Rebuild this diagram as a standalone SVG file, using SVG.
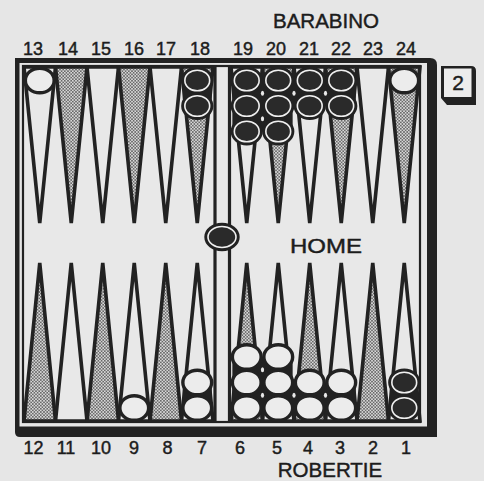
<svg xmlns="http://www.w3.org/2000/svg" xmlns:xlink="http://www.w3.org/1999/xlink" width="484" height="481" viewBox="0 0 484 481">
<defs>
<style>
.t{font-family:"Liberation Sans",Arial,Helvetica,sans-serif;fill:#1c1c1c;stroke:#1c1c1c;stroke-width:0.45;text-anchor:middle}
.n{font-size:18px}
.name{font-size:20.5px}
.pt{stroke:#222;stroke-width:3.6;stroke-linejoin:miter}
.w{fill:#e8e8e8}
.s{fill:url(#dots)}
.gap{fill:#222}
.spot{fill:#e8e8e8}
</style>
<pattern id="dots" width="3.2" height="3.2" patternUnits="userSpaceOnUse">
<rect width="3.2" height="3.2" fill="#d8d8d8"/>
<circle cx="0.8" cy="0.8" r="0.8" fill="#444"/>
<circle cx="2.4" cy="2.4" r="0.8" fill="#444"/>
</pattern>
<g id="wc"><ellipse rx="14.4" ry="12.3" fill="#ececec" stroke="#222" stroke-width="3.4"/></g>
<g id="bc"><ellipse rx="14.4" ry="12.3" fill="#2a2a2a" stroke="#222" stroke-width="3.4"/><ellipse rx="12.4" ry="10.3" fill="none" stroke="#f0f0f0" stroke-width="1.6"/></g>
</defs>
<rect width="484" height="481" fill="#e6e6e6"/>
<g id="frame">
<path d="M15,58 H430 Q437,58 437,65 V437 H20 Q15,437 15,432 Z" fill="#222"/>
<rect x="19.5" y="63" width="407.5" height="363.5" fill="#e6e6e6"/>
<rect x="23" y="66" width="397" height="356" fill="#e8e8e8" stroke="#222" stroke-width="2.2"/>
</g>
<g id="points" class="pt">
<polygon class="w" points="24,67 55.5,67 39.75,223"/>
<polygon class="s" points="55.5,67 87,67 71.25,223"/>
<polygon class="w" points="87,67 118.5,67 102.75,223"/>
<polygon class="s" points="118.5,67 150,67 134.25,223"/>
<polygon class="w" points="150,67 181.5,67 165.75,223"/>
<polygon class="s" points="181.5,67 213,67 197.25,223"/>
<polygon class="w" points="231,67 262.5,67 246.75,223"/>
<polygon class="s" points="262.5,67 294,67 278.25,223"/>
<polygon class="w" points="294,67 325.5,67 309.75,223"/>
<polygon class="s" points="325.5,67 357,67 341.25,223"/>
<polygon class="w" points="357,67 388.5,67 372.75,223"/>
<polygon class="s" points="388.5,67 420,67 404.25,223"/>
<polygon class="s" points="24,421 55.5,421 39.75,263"/>
<polygon class="w" points="55.5,421 87,421 71.25,263"/>
<polygon class="s" points="87,421 118.5,421 102.75,263"/>
<polygon class="w" points="118.5,421 150,421 134.25,263"/>
<polygon class="s" points="150,421 181.5,421 165.75,263"/>
<polygon class="w" points="181.5,421 213,421 197.25,263"/>
<polygon class="s" points="231,421 262.5,421 246.75,263"/>
<polygon class="w" points="262.5,421 294,421 278.25,263"/>
<polygon class="s" points="294,421 325.5,421 309.75,263"/>
<polygon class="w" points="325.5,421 357,421 341.25,263"/>
<polygon class="s" points="357,421 388.5,421 372.75,263"/>
<polygon class="w" points="388.5,421 420,421 404.25,263"/>
</g>
<g id="bar" stroke="#222" stroke-width="3.2">
<line x1="215" y1="66" x2="215" y2="422"/>
<line x1="229.5" y1="66" x2="229.5" y2="422"/>
</g>
<g id="stack-gaps">
<rect class="gap" x="182.85" y="80.5" width="28.8" height="25.5"/>
<rect class="gap" x="232.35" y="80.5" width="60.3" height="51"/>
<rect class="gap" x="279.85" y="80.5" width="75.8" height="25.5"/>
<ellipse class="spot" cx="262.5" cy="93.25" rx="1.6" ry="2.6"/>
<ellipse class="spot" cx="294" cy="93.25" rx="1.6" ry="2.6"/>
<ellipse class="spot" cx="325.5" cy="93.25" rx="1.6" ry="2.6"/>
<ellipse class="spot" cx="262.5" cy="118.75" rx="1.6" ry="2.6"/>
<rect class="gap" x="182.85" y="382.5" width="28.8" height="25.5"/>
<rect class="gap" x="232.35" y="357" width="60.3" height="51"/>
<rect class="gap" x="279.85" y="382.5" width="75.8" height="25.5"/>
<ellipse class="spot" cx="262.5" cy="395.25" rx="1.6" ry="2.6"/>
<ellipse class="spot" cx="294" cy="395.25" rx="1.6" ry="2.6"/>
<ellipse class="spot" cx="325.5" cy="395.25" rx="1.6" ry="2.6"/>
<ellipse class="spot" cx="262.5" cy="369.75" rx="1.6" ry="2.6"/>
<rect class="gap" x="389.85" y="382.5" width="28.8" height="25.5"/>
</g>
<g id="checkers">
<use xlink:href="#wc" x="39.75" y="80.5"/>
<use xlink:href="#wc" x="404.25" y="80.5"/>
<use xlink:href="#bc" x="197.25" y="80.5"/>
<use xlink:href="#bc" x="197.25" y="106"/>
<use xlink:href="#bc" x="246.75" y="80.5"/>
<use xlink:href="#bc" x="246.75" y="106"/>
<use xlink:href="#bc" x="246.75" y="131.5"/>
<use xlink:href="#bc" x="278.25" y="80.5"/>
<use xlink:href="#bc" x="278.25" y="106"/>
<use xlink:href="#bc" x="278.25" y="131.5"/>
<use xlink:href="#bc" x="309.75" y="80.5"/>
<use xlink:href="#bc" x="309.75" y="106"/>
<use xlink:href="#bc" x="341.25" y="80.5"/>
<use xlink:href="#bc" x="341.25" y="106"/>
<g transform="translate(222,237)"><ellipse rx="16" ry="12.5" fill="#2a2a2a" stroke="#222" stroke-width="3.4"/><ellipse rx="14" ry="10.5" fill="none" stroke="#f0f0f0" stroke-width="1.6"/></g>
<use xlink:href="#wc" x="134.25" y="408"/>
<use xlink:href="#wc" x="197.25" y="408"/>
<use xlink:href="#wc" x="197.25" y="382.5"/>
<use xlink:href="#wc" x="246.75" y="408"/>
<use xlink:href="#wc" x="246.75" y="382.5"/>
<use xlink:href="#wc" x="246.75" y="357"/>
<use xlink:href="#wc" x="278.25" y="408"/>
<use xlink:href="#wc" x="278.25" y="382.5"/>
<use xlink:href="#wc" x="278.25" y="357"/>
<use xlink:href="#wc" x="309.75" y="408"/>
<use xlink:href="#wc" x="309.75" y="382.5"/>
<use xlink:href="#wc" x="341.25" y="408"/>
<use xlink:href="#wc" x="341.25" y="382.5"/>
<use xlink:href="#bc" x="404.25" y="408"/>
<use xlink:href="#bc" x="404.25" y="382.5"/>
</g>
<g id="cube">
<path d="M441,66 H471 Q476,66 476,71 V105 H447 L441,98 Z" fill="#222"/>
<rect x="444" y="68.5" width="27.5" height="28.5" fill="#ececec"/>
<text class="t" x="458" y="90" font-size="21">2</text>
</g>
<g id="labels" class="t">
<text class="name" x="326" y="28">BARABINO</text>
<text class="name" x="330" y="477">ROBERTIE</text>
<text x="326" y="253" font-size="21" textLength="72" lengthAdjust="spacingAndGlyphs">HOME</text>
<g class="n">
<text x="33" y="55">13</text><text x="68" y="55">14</text><text x="101" y="55">15</text><text x="134" y="55">16</text><text x="166" y="55">17</text><text x="200" y="55">18</text>
<text x="243" y="55">19</text><text x="276" y="55">20</text><text x="309" y="55">21</text><text x="341" y="55">22</text><text x="373" y="55">23</text><text x="406" y="55">24</text>
<text x="33.5" y="454">12</text><text x="66" y="454">11</text><text x="101" y="454">10</text><text x="134" y="454">9</text><text x="167.5" y="454">8</text><text x="202" y="454">7</text>
<text x="240" y="454">6</text><text x="277" y="454">5</text><text x="308" y="454">4</text><text x="340" y="454">3</text><text x="373" y="454">2</text><text x="406" y="454">1</text>
</g>
</g>
</svg>
